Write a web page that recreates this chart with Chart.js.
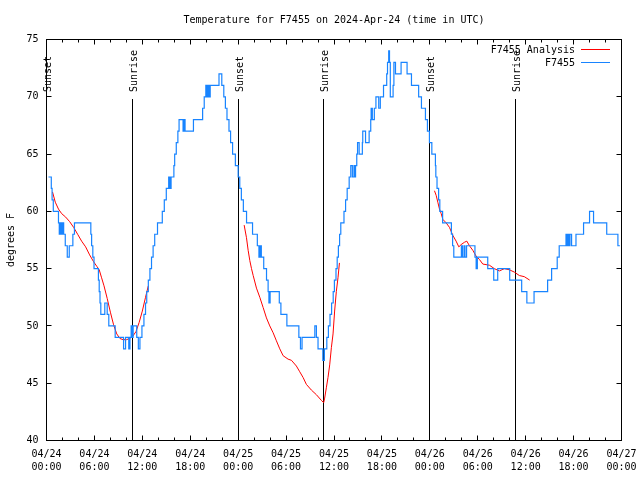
<!DOCTYPE html>
<html><head><meta charset="utf-8">
<script src="https://cdn.jsdelivr.net/npm/chart.js@4"></script>
<style>html,body{margin:0;padding:0;background:#fff}#wrap{width:640px;height:480px}</style>
</head><body><div id="wrap"><canvas id="c" width="640" height="480"></canvas></div>
<script>
const titleText = 'Temperature for F7455 on 2024-Apr-24 (time in UTC)';
const yAxisTitle = 'degrees F';
const seriesLabels = ['F7455 Analysis', 'F7455'];
const xTickDates = ['04/24','04/24','04/24','04/24','04/25','04/25','04/25','04/25','04/26','04/26','04/26','04/26','04/27'];
const xTickTimes = ['00:00','06:00','12:00','18:00','00:00','06:00','12:00','18:00','00:00','06:00','12:00','18:00','00:00'];

// Observed temperature: hours since 04/24 00:00 UTC and the value from that hour on
const obsHours = [0.25,0.6,0.7,0.85,1.5,1.6,1.75,1.9,2.05,2.15,2.35,2.6,2.85,3.3,3.5,5.55,5.65,5.8,5.95,6.5,6.6,6.7,6.8,7.3,7.6,7.8,8.6,9.65,9.9,10.3,10.45,10.6,10.7,10.85,11.3,11.5,11.7,11.95,12.2,12.4,12.55,12.75,12.95,13.15,13.35,13.55,13.9,14.5,14.75,15.0,15.3,15.45,15.6,15.95,16.05,16.25,16.45,16.6,17.1,17.2,17.35,18.4,19.55,19.75,19.95,20.1,20.25,20.4,20.5,21.6,21.95,22.2,22.4,22.6,22.85,23.05,23.3,23.65,24.0,24.2,24.4,24.65,25.05,25.8,26.4,26.6,26.75,26.9,27.2,27.55,27.75,27.85,28.0,29.15,29.35,30.1,31.6,31.8,32.0,33.6,33.8,34.0,34.6,34.8,35.1,35.3,35.5,35.7,35.9,36.05,36.25,36.4,36.55,36.7,36.85,37.25,37.45,37.65,37.9,38.1,38.3,38.5,38.6,38.7,38.85,38.95,39.15,39.55,39.6,39.95,40.4,40.6,40.65,40.8,41.05,41.25,41.6,41.8,42.2,42.6,42.7,42.85,42.95,43.05,43.4,43.5,43.7,44.4,45.15,45.7,46.6,46.95,47.45,47.7,47.95,48.25,48.7,48.75,48.9,49.1,49.25,49.6,50.7,50.85,51.0,51.95,52.1,52.3,52.4,52.6,53.65,53.8,53.95,55.25,56.0,56.5,58.0,59.5,60.15,61.05,62.75,63.25,63.95,64.2,65.05,65.2,65.3,65.45,65.55,65.75,66.3,67.25,68.0,68.5,70.15,71.55,71.8];
const obsTemps = [63,62,61,60,59,58,59,58,59,58,57,56,57,58,59,58,57,56,55,54,53,52,51,52,51,50,49,48,49,48,49,50,49,50,49,48,49,50,51,52,53,54,55,56,57,58,59,60,61,62,63,62,63,64,65,66,67,68,67,68,67,68,69,70,71,70,71,70,71,72,71,70,69,68,67,66,65,64,63,62,61,60,59,58,57,56,57,56,55,54,53,52,53,52,51,50,49,48,49,50,49,48,47,48,49,50,51,52,53,54,55,56,57,58,59,60,61,62,63,64,63,64,63,64,65,66,65,66,67,66,67,68,69,68,69,70,69,70,71,72,73,74,73,70,71,73,72,73,72,71,70,69,68,67,66,65,64,63,62,61,60,59,58,57,56,57,56,57,56,57,56,55,56,55,54,55,54,53,52,53,54,55,56,57,58,57,58,57,58,57,58,59,60,59,58,57,57];

// Analysis curve, three runs
const analysis1Hours = [0.75,1.1,1.5,1.9,2.4,2.9,3.4,3.9,4.4,4.9,5.4,5.9,6.3,6.6,6.9,7.2,7.6,8.0,8.4,8.8,9.2,9.6,10.0,10.4,10.8,11.2,11.6,12.0,12.4,12.75];
const analysis1Temps = [61.7,60.8,60.2,59.8,59.5,59.1,58.6,58.0,57.4,56.9,56.2,55.6,55.2,54.9,54.2,53.5,52.4,51.2,50.1,49.3,48.9,48.8,48.8,48.9,49.1,49.5,50.3,51.3,52.5,53.5];
const analysis2Hours = [24.75,25.04,25.25,25.46,25.67,25.88,26.29,26.71,27.13,27.54,27.96,28.38,28.79,29.21,29.63,30.25,30.67,31.29,31.71,32.13,32.54,33.17,33.79,34.42,34.71,34.83,35.04,35.25,35.46,35.67,35.88,36.08,36.29,36.5,36.68];
const analysis2Temps = [58.8,57.7,56.6,55.7,55.0,54.4,53.3,52.5,51.6,50.7,50.0,49.4,48.7,48.0,47.4,47.1,47.0,46.5,46.0,45.5,44.9,44.4,44.0,43.5,43.3,43.7,44.6,45.5,46.6,48.1,49.3,51.3,53.0,54.2,55.5];
const analysis3Hours = [48.58,48.79,49.0,49.21,49.42,49.63,50.04,50.46,50.88,51.29,51.63,51.92,52.33,52.63,52.96,53.38,53.79,54.21,54.63,55.46,56.08,56.71,57.33,57.96,58.58,59.21,59.83,60.5];
const analysis3Temps = [61.8,61.4,60.8,60.2,59.8,59.3,59.0,58.6,57.9,57.4,56.9,57.1,57.3,57.4,57.0,56.6,56.1,55.8,55.4,55.3,55.0,54.8,55.0,54.9,54.7,54.4,54.3,54.0];

// Sun events
const eventHours = [0, 10.75, 24.0, 34.63, 48.0, 58.67];
const eventLabels = ['Sunset','Sunrise','Sunset','Sunrise','Sunset','Sunrise'];

const FONT = '"DejaVu Sans Mono", "Liberation Mono", monospace';
const RED = '#ff0000';
const BLUE = '#1884ff';

const obsData = obsHours.map((h, i) => ({x: h, y: obsTemps[i]}));
const analysisData = [];
[[analysis1Hours, analysis1Temps],[analysis2Hours, analysis2Temps],[analysis3Hours, analysis3Temps]].forEach(([hs, ts], k) => {
  if (k > 0) analysisData.push({x: hs[0] - 0.01, y: null});
  hs.forEach((h, i) => analysisData.push({x: h, y: ts[i]}));
});

const gnuDecor = {
  id: 'gnuDecor',
  beforeDatasetsDraw(chart) {
    const {ctx, chartArea: a, scales: {x}} = chart;
    ctx.save();
    ctx.strokeStyle = '#000';
    ctx.lineWidth = 1;
    ctx.fillStyle = '#000';
    ctx.font = '10px ' + FONT;
    eventHours.forEach((h, i) => {
      const px = Math.round(x.getPixelForValue(h) - 0.5) + 0.5;
      ctx.beginPath(); ctx.moveTo(px, 99); ctx.lineTo(px, a.bottom); ctx.stroke();
      ctx.save();
      ctx.translate(px + 1.5, 92);
      ctx.rotate(-Math.PI / 2);
      ctx.textAlign = 'left';
      ctx.textBaseline = 'middle';
      ctx.fillText(eventLabels[i], 0, 0);
      ctx.restore();
    });
    ctx.restore();
  },
  afterDraw(chart) {
    const {ctx, chartArea: a, scales: {x, y}} = chart;
    ctx.save();
    ctx.strokeStyle = '#000';
    ctx.lineWidth = 1;
    const L = Math.round(a.left - 0.5) + 0.5, R = Math.round(a.right - 0.5) + 0.5;
    const T = Math.round(a.top - 0.5) + 0.5, B = Math.round(a.bottom - 0.5) + 0.5;
    ctx.strokeRect(L, T, R - L, B - T);
    ctx.beginPath();
    for (let h = 2; h < 72; h += 2) {
      const px = Math.round(x.getPixelForValue(h) - 0.5) + 0.5;
      const len = (h % 6 === 0) ? 5 : 3;
      ctx.moveTo(px, B); ctx.lineTo(px, B - len);
      ctx.moveTo(px, T); ctx.lineTo(px, T + len);
    }
    for (let v = 45; v < 75; v += 5) {
      const py = Math.round(y.getPixelForValue(v) - 0.5) + 0.5;
      ctx.moveTo(L, py); ctx.lineTo(L + 5, py);
      ctx.moveTo(R, py); ctx.lineTo(R - 5, py);
    }
    ctx.stroke();
    // legend
    ctx.font = '10px ' + FONT;
    ctx.fillStyle = '#000';
    ctx.textAlign = 'right';
    ctx.textBaseline = 'middle';
    const rows = [{label: chart.data.datasets[1].label, color: RED, y: 49.5},
                  {label: chart.data.datasets[0].label, color: BLUE, y: 62.5}];
    rows.forEach(r => {
      ctx.fillText(r.label, 575, r.y + 1);
      ctx.strokeStyle = r.color;
      ctx.beginPath(); ctx.moveTo(581, r.y); ctx.lineTo(610, r.y); ctx.stroke();
    });
    ctx.restore();
  }
};

const noPad = s => { s.paddingLeft = 0; s.paddingRight = 0; s.paddingTop = 0; s.paddingBottom = 0; };

new Chart(document.getElementById('c'), {
  type: 'line',
  data: {
    datasets: [
      {label: seriesLabels[1], data: obsData, borderColor: BLUE, borderWidth: 1.2, pointRadius: 0, stepped: true, fill: false, order: 0},
      {label: seriesLabels[0], data: analysisData, borderColor: RED, borderWidth: 1, pointRadius: 0, spanGaps: false, fill: false, tension: 0, order: 1}
    ]
  },
  options: {
    responsive: false,
    animation: false,
    devicePixelRatio: 1,
    layout: {padding: {left: 0, right: 18.5, top: 0, bottom: 0}},
    plugins: {
      legend: {display: false},
      tooltip: {enabled: false},
      title: {display: true, fullSize: false, text: titleText, color: '#000', font: {family: FONT, size: 10, lineHeight: 1.2, weight: 'normal'}, padding: {top: 14, bottom: 13.5}}
    },
    scales: {
      x: {
        type: 'linear', min: 0, max: 72,
        afterFit: s => { s.height = 39.5; noPad(s); },
        grid: {display: false, drawTicks: false},
        border: {display: false},
        ticks: {
          stepSize: 6, autoSkip: false, maxRotation: 0, minRotation: 0, padding: 7,
          color: '#000', font: {family: FONT, size: 10, lineHeight: 1.3},
          callback: v => { const i = Math.round(v / 6); return [xTickDates[i], xTickTimes[i]]; }
        }
      },
      y: {
        min: 40, max: 75,
        afterFit: s => { s.width = 46.5; noPad(s); },
        grid: {display: false, drawTicks: false},
        border: {display: false},
        title: {display: true, text: yAxisTitle, color: '#000', font: {family: FONT, size: 10, lineHeight: 1.2}, padding: {top: 5, bottom: 0}},
        ticks: {stepSize: 5, padding: 8, color: '#000', font: {family: FONT, size: 10}}
      }
    }
  },
  plugins: [gnuDecor]
});
</script></body></html>
